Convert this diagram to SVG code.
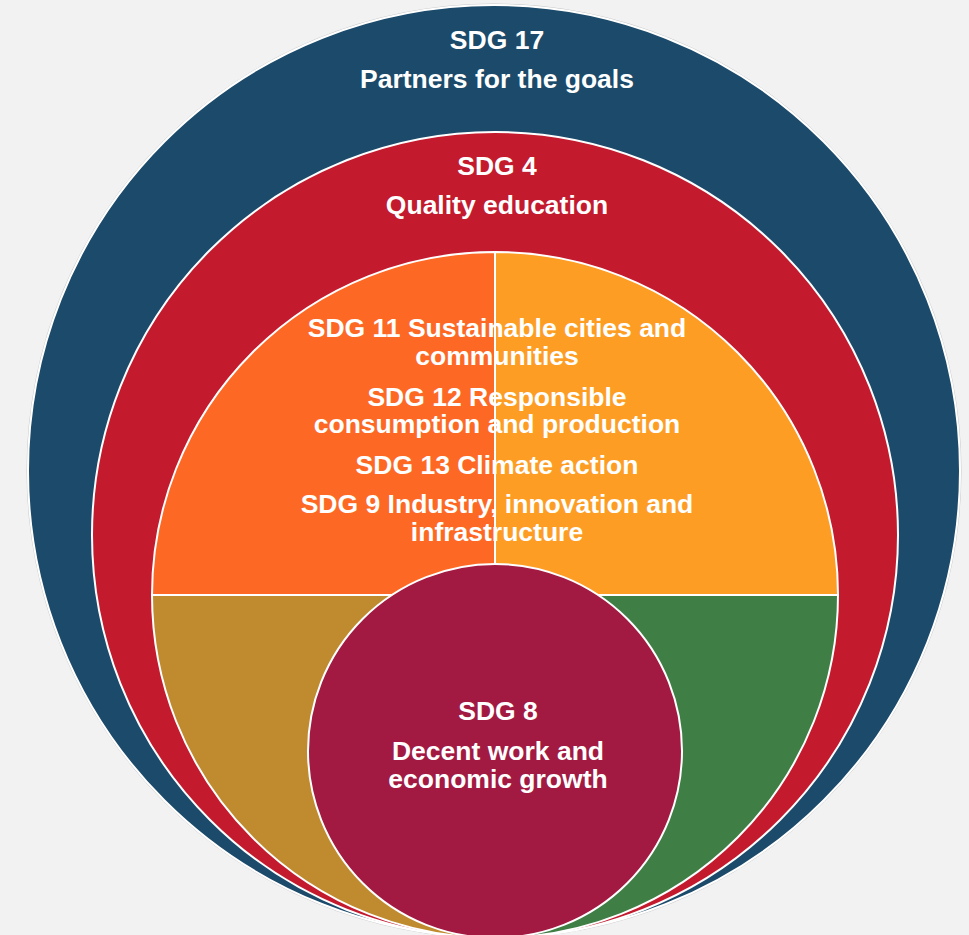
<svg xmlns="http://www.w3.org/2000/svg" width="969" height="935" viewBox="0 0 969 935">
<style>
.t{font-family:"Liberation Sans",Arial,sans-serif;font-weight:bold;font-size:26.5px;fill:#ffffff;text-anchor:middle}
.s{stroke:#ffffff;stroke-width:2}
</style>
<rect x="0" y="0" width="969" height="935" fill="#f2f2f2"/>
<g id="sdg17">
<circle cx="494" cy="471" r="467" fill="none" stroke="#c8c8c8" stroke-width="1"/>
<circle class="s" cx="494" cy="471" r="466" fill="#1b4a6b"/>
<text class="t" x="497" y="49">SDG 17</text>
<text class="t" x="497" y="88">Partners for the goals</text>
</g>
<g id="sdg4">
<circle class="s" cx="495" cy="535" r="403" fill="#c31a2e"/>
<text class="t" x="497" y="175">SDG 4</text>
<text class="t" x="497" y="214">Quality education</text>
</g>
<g id="quadrants">
<path id="q-tl" class="s" d="M495,595 L152,595 A343,343 0 0 1 495,252 Z" fill="#fd6925"/>
<path id="q-tr" class="s" d="M495,595 L495,252 A343,343 0 0 1 838,595 Z" fill="#fd9d24"/>
<path id="q-bl" class="s" d="M495,595 L495,938 A343,343 0 0 1 152,595 Z" fill="#bf8b2e"/>
<path id="q-br" class="s" d="M495,595 L838,595 A343,343 0 0 1 495,938 Z" fill="#3f7e44"/>
</g>
<g id="inner-text">
<text class="t" x="497" y="337">SDG 11 Sustainable cities and</text>
<text class="t" x="497" y="365">communities</text>
<text class="t" x="497" y="406">SDG 12 Responsible</text>
<text class="t" x="497" y="433">consumption and production</text>
<text class="t" x="497" y="474">SDG 13 Climate action</text>
<text class="t" x="497" y="513">SDG 9 Industry, innovation and</text>
<text class="t" x="497" y="541">infrastructure</text>
</g>
<g id="sdg8">
<circle class="s" cx="495" cy="751" r="187" fill="#a21942"/>
<text class="t" x="498" y="720">SDG 8</text>
<text class="t" x="498" y="760">Decent work and</text>
<text class="t" x="498" y="788">economic growth</text>
</g>
<g id="connectors"/>
</svg>
